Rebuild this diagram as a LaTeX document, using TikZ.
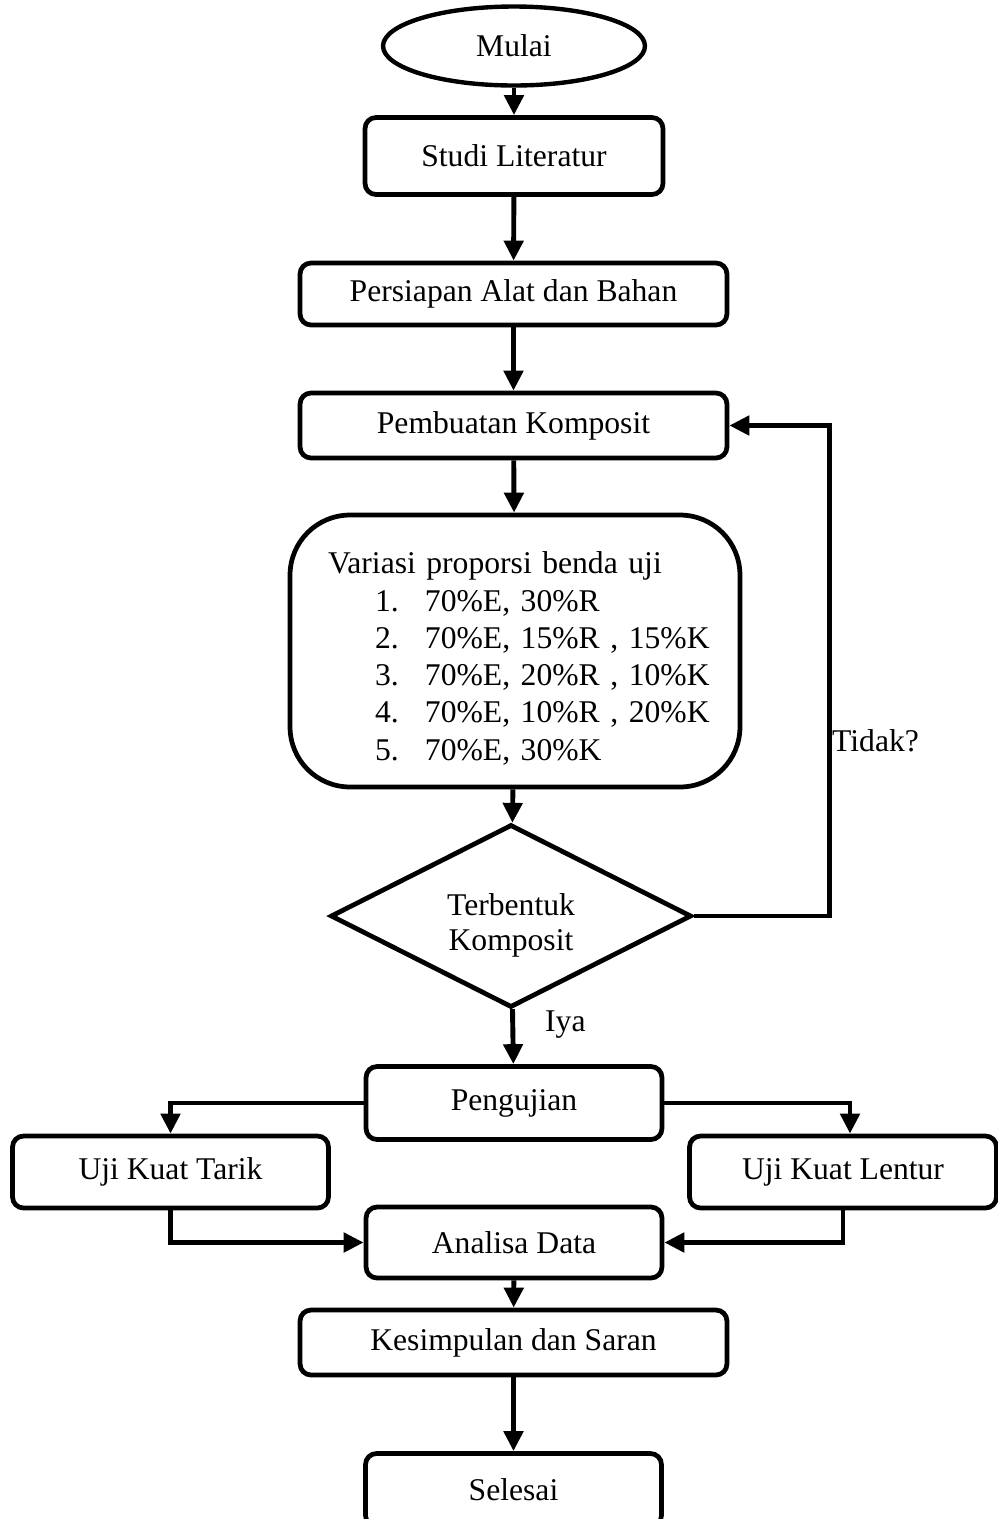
\documentclass[tikz,border=0pt]{standalone}
\usepackage{fontspec}
\setmainfont{Liberation Serif}
\usetikzlibrary{shapes.geometric,arrows.meta}

\tikzset{
	teks/.style={font=\fontsize{18}{21.6}\selectfont},
	kotak/.style={draw, line width=2.7pt, rounded corners=0.22cm, align=center},
	panah/.style={line width=2.8pt, -{Triangle[width=0.38cm,length=0.4cm]}},
}
\newcommand{\butir}[2]{\hspace*{0.94cm}\makebox[1cm][l]{#1}#2}

\begin{document}
\begin{tikzpicture}[x=0.02cm, y=-0.02cm, every node/.append style={teks}]
	\clip (0,0) rectangle (998,1519);
	\node[draw, ellipse, line width=2.5pt, minimum width=5.24cm, minimum height=1.58cm] (mulai) at (514,46) {Mulai};
	\node[kotak, minimum width=5.96cm, minimum height=1.54cm] (studi) at (514,156) {Studi Literatur};
	\node[kotak, minimum width=8.54cm, minimum height=1.24cm] (persiapan) at (513.5,294) {Persiapan Alat dan Bahan};
	\node[kotak, minimum width=8.54cm, minimum height=1.3cm] (pembuatan) at (513.5,425.5) {Pembuatan Komposit};
	\node[kotak, rounded corners=1.2cm, minimum width=9cm, minimum height=5.44cm, text width=7.48cm, align=left] (variasi) at (515,651)
		{\raisebox{-0.32cm}[0pt][0pt]{\begin{tabular}{@{}l@{}}
		Variasi proporsi benda uji\\[-0.4pt]
		\butir{1.}{70\%E, 30\%R}\\[-0.4pt]
		\butir{2.}{70\%E, 15\%R , 15\%K}\\[-0.4pt]
		\butir{3.}{70\%E, 20\%R , 10\%K}\\[-0.4pt]
		\butir{4.}{70\%E, 10\%R , 20\%K}\\[-0.4pt]
		\butir{5.}{70\%E, 30\%K}
		\end{tabular}}};
	\node[draw, diamond, line width=2.7pt, minimum width=7.22cm, minimum height=3.66cm, inner sep=0pt] (cek) at (511,916)
		{\raisebox{-0.34cm}[0pt][0pt]{\begin{tabular}{@{}c@{}}Terbentuk\\[-2pt]Komposit\end{tabular}}};
	\node[kotak, minimum width=5.92cm, minimum height=1.46cm] (pengujian) at (514,1103) {Pengujian};
	\node[kotak, minimum width=6.32cm, minimum height=1.44cm] (tarik) at (170.5,1172) {Uji Kuat Tarik};
	\node[kotak, minimum width=6.14cm, minimum height=1.44cm] (lentur) at (843,1172) {Uji Kuat Lentur};
	\node[kotak, minimum width=5.92cm, minimum height=1.42cm] (analisa) at (514,1242.5) {Analisa Data};
	\node[kotak, minimum width=8.54cm, minimum height=1.3cm] (kesimpulan) at (513.5,1342.5) {Kesimpulan dan Saran};
	\node[kotak, minimum width=5.92cm, minimum height=1.46cm] (selesai) at (513.5,1490) {Selesai};
	\node[anchor=west] (tidak) at (826,741) {Tidak?};
	\node[anchor=west] (iya) at (539,1025) {Iya};

	\draw[panah] (mulai) -- (studi);
	\draw[panah] (studi) -- (persiapan);
	\draw[panah] (persiapan) -- (pembuatan);
	\draw[panah] (pembuatan) -- (variasi);
	\draw[panah] (variasi) -- (cek);
	\draw[panah] (cek.east) -- ++(136,0) coordinate (balik) |- (pembuatan.east);
	\draw[panah] (cek) -- (pengujian);
	\draw[panah] (pengujian.west) -| (tarik.north);
	\draw[panah] (pengujian.east) -| ([xshift=0.14cm]lentur.north);
	\draw[panah] (tarik.south) |- (analisa.west);
	\draw[panah] (lentur.south) |- (analisa.east);
	\draw[panah] (analisa) -- (kesimpulan);
	\draw[panah] (kesimpulan) -- (selesai);
\end{tikzpicture}
\end{document}
